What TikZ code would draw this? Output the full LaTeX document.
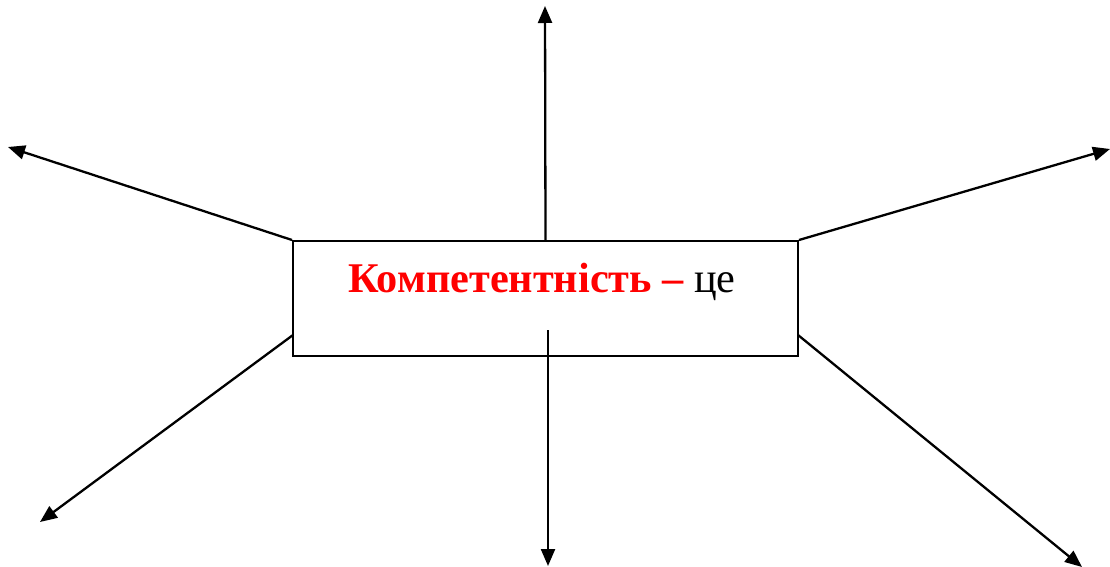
\documentclass[tikz,border=0pt]{standalone}
\usepackage{fontspec}
\setmainfont{Liberation Serif}
\usetikzlibrary{arrows.meta, positioning, calc}
\definecolor{KeyRed}{HTML}{FF0000}

\begin{document}
\begin{tikzpicture}[x=1pt, y=-1pt,
  ray/.style={-{Triangle[length=17pt, width=14pt]}, line width=2.3pt},
  frame/.style={draw, line width=2pt, minimum width=505pt, minimum height=115pt, inner sep=0pt}]
\useasboundingbox (0,0) rectangle (1110,567);
% Central box
\node[frame] (box) at (545.5,298.5) {};
\node[font=\fontsize{42.3}{50}\selectfont, anchor=base] (term) at (542,292)
  {\textbf{\color{KeyRed}Компетентність –} це};
% Ray ends
\coordinate (top) at (545,6);
\coordinate (bottom) at (548,566);
\coordinate (upleft) at (8,147);
\coordinate (upright) at (1110,149);
\coordinate (lowleft) at (40,522);
\coordinate (lowright) at (1082,567);
% Ray starts
\coordinate (inner) at (548,330);
\coordinate (lstart) at (293,335);
\coordinate (rstart) at (798,335);
% Rays
\draw[ray] (box.north) -- (top);
\draw[ray] (inner) -- (bottom);
\draw[ray] (box.north west) -- (upleft);
\draw[ray] (box.north east) -- (upright);
\draw[ray] (lstart) -- (lowleft);
\draw[ray] (rstart) -- (lowright);
\end{tikzpicture}
\end{document}
